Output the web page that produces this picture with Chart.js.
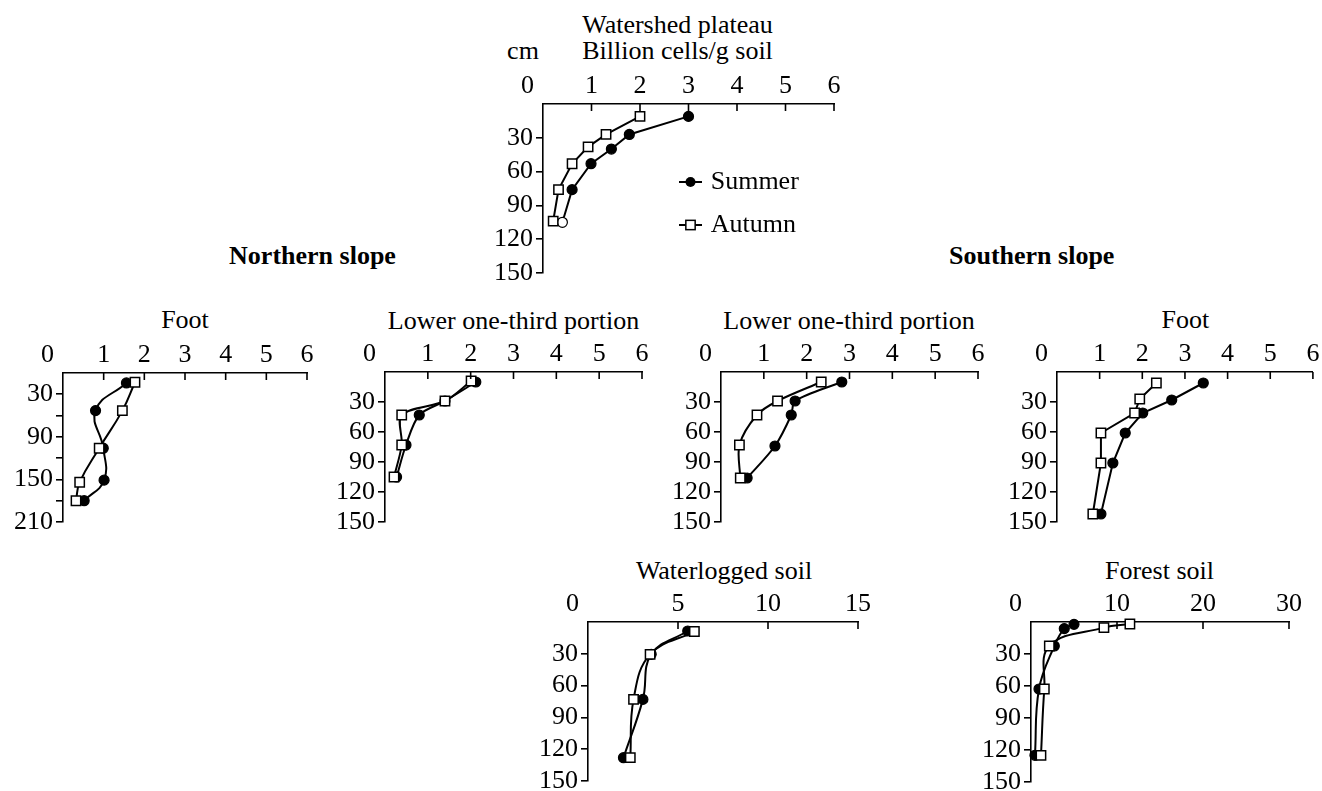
<!DOCTYPE html>
<html><head><meta charset="utf-8">
<script src="https://cdn.jsdelivr.net/npm/chart.js@4.4.0/dist/chart.umd.min.js"></script>
<style>
html,body{margin:0;padding:0;background:#fff;width:1322px;height:791px;overflow:hidden;position:relative;font-family:'Liberation Serif','Times New Roman',serif;}
canvas{position:absolute;}
.t{position:absolute;transform:translate(-50%,-50%);white-space:nowrap;font-size:26px;line-height:1;color:#000;}
.b{font-weight:bold;}
</style></head><body>
<script>
// ---------------- DATA (depth in cm, billion cells / g soil) ----------------
const seriesNames = ['Summer', 'Autumn'];

// Watershed plateau
const plateauSummerDepth = [11, 27, 40, 53, 76, 105];
const plateauSummerCells = [3.00, 1.78, 1.41, 0.99, 0.60, 0.40];
const plateauAutumnDepth = [11, 27, 38, 53, 76, 104];
const plateauAutumnCells = [2.00, 1.30, 0.93, 0.60, 0.32, 0.21];

// Northern slope – Foot
const nFootSummerDepth = [14, 53, 106, 151, 180];
const nFootSummerCells = [1.56, 0.80, 0.99, 1.01, 0.52];
const nFootAutumnDepth = [13, 53, 106, 154, 180];
const nFootAutumnCells = [1.77, 1.46, 0.89, 0.41, 0.32];

// Northern slope – Lower one-third portion
const nLowSummerDepth = [10, 29, 43, 73, 105];
const nLowSummerCells = [2.12, 1.40, 0.80, 0.49, 0.27];
const nLowAutumnDepth = [9, 29, 43, 73, 105];
const nLowAutumnCells = [2.01, 1.40, 0.39, 0.39, 0.21];

// Southern slope – Lower one-third portion
const sLowSummerDepth = [10, 29, 43, 74, 106];
const sLowSummerCells = [2.82, 1.73, 1.64, 1.26, 0.61];
const sLowAutumnDepth = [10, 29, 43, 73, 106];
const sLowAutumnCells = [2.34, 1.32, 0.84, 0.43, 0.45];

// Southern slope – Foot
const sFootSummerDepth = [11, 28, 41, 61, 91, 142];
const sFootSummerCells = [3.43, 2.69, 2.01, 1.60, 1.31, 1.03];
const sFootAutumnDepth = [11, 27, 41, 61, 91, 142];
const sFootAutumnCells = [2.33, 1.94, 1.82, 1.03, 1.03, 0.84];

// Waterlogged soil
const waterSummerDepth = [8.5, 30.5, 73, 128];
const waterSummerCells = [5.54, 3.51, 3.05, 1.97];
const waterAutumnDepth = [9, 30.5, 73, 128];
const waterAutumnCells = [5.91, 3.45, 2.53, 2.35];

// Forest soil
const forestSummerDepth = [2.2, 6.2, 22.5, 62.8, 125];
const forestSummerCells = [5.0, 3.87, 2.71, 0.93, 0.46];
const forestAutumnDepth = [1.9, 5.3, 22.5, 62.8, 125];
const forestAutumnCells = [11.5, 8.48, 2.13, 1.55, 1.16];

// ---------------- LAYOUT ----------------
const FONT = "'Liberation Serif','Times New Roman',serif";
const FS = 26;
Chart.defaults.font.family = FONT;
Chart.defaults.font.size = FS;
Chart.defaults.color = '#000';

const panels = [
  {left:543, right:834, top:104, bottom:273, xMax:6, xStep:1, yMax:150, tension:0,
   s:[plateauSummerDepth, plateauSummerCells], a:[plateauAutumnDepth, plateauAutumnCells],
   hollowLastSummer:true, legend:{lineX0:679, lineX1:702, markX:690.5, textX:710.7, rows:[182,225]}},
  {left:63, right:307, top:373, bottom:522, xMax:6, xStep:1, yMax:210, labelEvery:60, tension:0.45,
   s:[nFootSummerDepth, nFootSummerCells], a:[nFootAutumnDepth, nFootAutumnCells]},
  {left:385, right:642, top:372, bottom:522, xMax:6, xStep:1, yMax:150, tension:0.3,
   s:[nLowSummerDepth, nLowSummerCells], a:[nLowAutumnDepth, nLowAutumnCells]},
  {left:721, right:978, top:372, bottom:522, xMax:6, xStep:1, yMax:150, tension:0.3,
   s:[sLowSummerDepth, sLowSummerCells], a:[sLowAutumnDepth, sLowAutumnCells]},
  {left:1057, right:1313, top:372, bottom:522, xMax:6, xStep:1, yMax:150, tension:0, padRight:8,
   s:[sFootSummerDepth, sFootSummerCells], a:[sFootAutumnDepth, sFootAutumnCells]},
  {left:588, right:858, top:622, bottom:781, xMax:15, xStep:5, yMax:150, tension:0.4,
   s:[waterSummerDepth, waterSummerCells], a:[waterAutumnDepth, waterAutumnCells]},
  {left:1031, right:1289, top:622, bottom:782, xMax:30, xStep:10, yMax:150, tension:0.4,
   s:[forestSummerDepth, forestSummerCells], a:[forestAutumnDepth, forestAutumnCells]}
];

const titles = [
  ['Watershed plateau', 677.5, 25, false],
  ['Billion cells/g soil', 677.5, 51, false],
  ['cm', 523, 51, false],
  ['Northern slope', 312.5, 256, true],
  ['Southern slope', 1031.7, 256, true],
  ['Foot', 185, 320, false],
  ['Lower one-third portion', 513.5, 320.5, false],
  ['Lower one-third portion', 849, 320.5, false],
  ['Foot', 1185.3, 320, false],
  ['Waterlogged soil', 724, 571, false],
  ['Forest soil', 1159.5, 571, false]
];
titles.forEach(([txt, cx, cy, bold]) => {
  const d = document.createElement('div');
  d.className = 't' + (bold ? ' b' : '');
  d.textContent = txt;
  d.style.left = cx + 'px';
  d.style.top = cy + 'px';
  document.body.appendChild(d);
});

const YW = 60, XH = 40, PB = 22;

function toPoints(depth, cells){ return depth.map((d,i)=>({x:cells[i], y:d})); }

function makePanel(p){
  const PR = p.padRight ?? 16;
  const cLeft = p.left - YW, cTop = p.top - XH;
  const w = YW + (p.right - p.left) + PR, h = XH + (p.bottom - p.top) + PB;
  const cv = document.createElement('canvas');
  cv.width = w; cv.height = h;
  cv.style.left = cLeft + 'px'; cv.style.top = cTop + 'px';
  cv.style.width = w + 'px'; cv.style.height = h + 'px';
  document.body.appendChild(cv);

  const summerPts = toPoints(p.s[0], p.s[1]);
  const autumnPts = toPoints(p.a[0], p.a[1]);
  const summerFill = summerPts.map((_,i)=> (p.hollowLastSummer && i === summerPts.length-1) ? '#fff' : '#000');

  const extras = {
    id: 'extras',
    afterDraw(chart){
      const ctx = chart.ctx, a = chart.chartArea, xs = chart.scales.x;
      ctx.save();
      ctx.strokeStyle = '#000'; ctx.lineWidth = 1.6;
      xs.ticks.forEach(t => {
        if (t.value === 0) return;
        const px = xs.getPixelForValue(t.value);
        ctx.beginPath(); ctx.moveTo(px, a.top); ctx.lineTo(px, a.top + 7); ctx.stroke();
      });
      ctx.fillStyle = '#000';
      ctx.font = FS + 'px ' + FONT;
      ctx.textAlign = 'center'; ctx.textBaseline = 'middle';
      ctx.fillText('0', a.left - 15.5, a.top - 2 - FS*0.6);
      if (p.legend) {
        const L = p.legend;
        chart.data.datasets.slice().sort((u,v)=>u.legendIdx-v.legendIdx).forEach((ds, k) => {
          const y = L.rows[k] - cTop;
          ctx.lineWidth = 2; ctx.strokeStyle = '#000';
          ctx.beginPath(); ctx.moveTo(L.lineX0 - cLeft, y); ctx.lineTo(L.lineX1 - cLeft, y); ctx.stroke();
          const mx = L.markX - cLeft;
          if (ds.pointStyle === 'rect') {
            const s = ds.pointRadius * Math.SQRT1_2;
            ctx.fillStyle = '#fff'; ctx.fillRect(mx - s, y - s, 2*s, 2*s);
            ctx.lineWidth = ds.pointBorderWidth; ctx.strokeRect(mx - s, y - s, 2*s, 2*s);
          } else {
            ctx.fillStyle = '#000'; ctx.beginPath(); ctx.arc(mx, y, ds.pointRadius, 0, Math.PI*2); ctx.fill();
          }
          ctx.fillStyle = '#000'; ctx.textAlign = 'left'; ctx.textBaseline = 'middle';
          ctx.fillText(ds.label, L.textX - cLeft, y);
        });
      }
      ctx.restore();
    }
  };

  new Chart(cv, {
    type: 'scatter',
    data: {
      datasets: [
        {label: seriesNames[1], legendIdx:1, data: autumnPts, showLine: true, order: 0,
         borderColor:'#000', borderWidth:2, tension:p.tension, clip:false,
         pointStyle:'rect', pointRadius:6.6, pointBorderWidth:1.5,
         pointBackgroundColor:'#fff', pointBorderColor:'#000'},
        {label: seriesNames[0], legendIdx:0, data: summerPts, showLine: true, order: 1,
         borderColor:'#000', borderWidth:2, tension:p.tension, clip:false,
         pointStyle:'circle', pointRadius:5, pointBorderWidth:1.2,
         pointBackgroundColor: summerFill, pointBorderColor:'#000'}
      ]
    },
    options: {
      responsive:false, animation:false, devicePixelRatio:1,
      layout:{padding:{left:0, top:0, right:PR, bottom:PB}},
      plugins:{legend:{display:false}, tooltip:{enabled:false}},
      scales:{
        x:{type:'linear', position:'top', min:0, max:p.xMax,
           ticks:{stepSize:p.xStep, autoSkip:false, maxRotation:0, padding:2, color:'#000',
                  font:{size:FS, family:FONT}, callback:v => v === 0 ? '' : String(v)},
           grid:{drawOnChartArea:false, drawTicks:false},
           border:{display:true, color:'#000', width:1.6},
           afterFit:s => { s.height = XH; s.paddingLeft = 0; s.paddingRight = 0; }},
        y:{type:'linear', reverse:true, min:0, max:p.yMax,
           ticks:{stepSize:30, autoSkip:false, padding:3, color:'#000', font:{size:FS, family:FONT},
                  callback:v => (v === 0 || (p.labelEvery && v % p.labelEvery !== 30)) ? '' : String(v)},
           grid:{drawOnChartArea:false, drawTicks:true, tickLength:7, lineWidth:1.6,
                 color:c => (c.tick && c.tick.value === 0) ? 'rgba(0,0,0,0)' : '#000'},
           border:{display:true, color:'#000', width:1.6},
           afterFit:s => { s.width = YW; s.paddingTop = 0; s.paddingBottom = 0; }}
      }
    },
    plugins:[extras]
  });
}

panels.forEach(makePanel);
</script>
</body></html>
